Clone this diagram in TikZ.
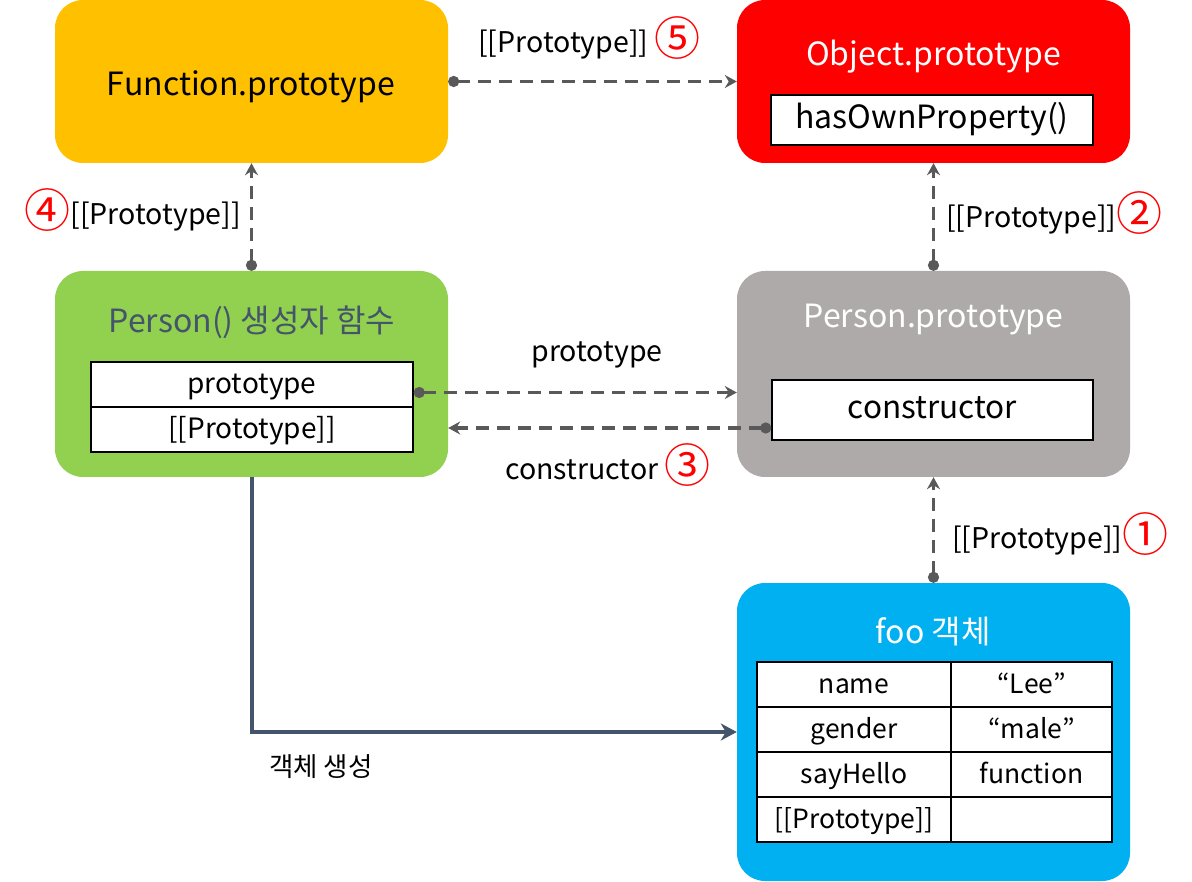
\documentclass[tikz,border=0pt]{standalone}
\usepackage{fontspec}
\setmainfont{Noto Sans CJK KR}
\usetikzlibrary{arrows.meta}

\definecolor{fnorange}{HTML}{FFC000}
\definecolor{objred}{HTML}{FF0000}
\definecolor{ctorgreen}{HTML}{92D050}
\definecolor{protogray}{HTML}{AEAAAA}
\definecolor{fooblue}{HTML}{00B0F0}
\definecolor{slate}{HTML}{44546A}
\definecolor{linkgray}{HTML}{595959}

\newcommand{\stepmark}[1]{{\color{red}\fontsize{46}{46}\selectfont\raisebox{-0.06em}{#1}}}

\begin{document}
\begin{tikzpicture}[x=1pt, y=-1pt,
    box node/.style={rounded corners=28pt, minimum width=393pt, inner sep=0pt},
    field node/.style={draw=black, fill=white, line width=1.5pt, inner sep=0pt,
      text height=24pt, text depth=6pt, font=\fontsize{28}{32}\selectfont},
    title node/.style={inner sep=0pt, font=\fontsize{32}{36}\selectfont},
    label node/.style={inner sep=0pt, font=\fontsize{28.5}{32}\selectfont},
    proto link/.style={draw=linkgray, line width=3.5pt, dash pattern=on 13pt off 8pt,
      {Circle[length=11pt]}-{Stealth[length=12pt,width=13pt,inset=4pt]}},
    make link/.style={draw=slate, line width=4pt, -{Stealth[length=16pt,width=17pt,inset=5pt]}},
    ]
  \useasboundingbox (0,0) rectangle (1192,882);

  % Function.prototype / Object.prototype
  \node[box node, fill=fnorange, minimum height=163pt] (fp) at (251.5, 81.5) {};
  \node[title node] (fptitle) at (251, 87) {Function.prototype};
  \node[box node, fill=objred, minimum height=163pt] (op) at (933.5, 81.5) {};
  \node[title node, text=white] (optitle) at (933.5, 57) {Object.prototype};
  \node[field node, minimum width=322pt, minimum height=50pt, font=\fontsize{32}{36}\selectfont] (hop) at (932, 120) {hasOwnProperty()};

  % Person() / Person.prototype
  \node[box node, fill=ctorgreen, minimum height=206pt] (pc) at (251.5, 374) {};
  \node[title node, text=slate] (pctitle) at (252, 322) {Person() 생성자 함수};
  \node[field node, minimum width=322pt, minimum height=45pt] (ptrow) at (252, 384.5) {prototype};
  \node[field node, minimum width=322pt, minimum height=45pt] (pprow) at (252, 429.5) {[[Prototype]]};

  \node[box node, fill=protogray, minimum height=206pt] (pp) at (933.5, 374) {};
  \node[title node, text=white] (pptitle) at (933.5, 320) {Person.prototype};
  \node[field node, minimum width=321pt, minimum height=60pt, font=\fontsize{31.5}{36}\selectfont] (ctor) at (932.5, 410) {constructor};

  % foo
  \node[box node, fill=fooblue, minimum height=298pt] (foo) at (933.5, 732) {};
  \node[title node, text=white] (footitle) at (933, 632) {foo 객체};
  \foreach \i/\key/\val in {1/name/“Lee”, 2/gender/“male”, 3/sayHello/function, 4/[[Prototype]]/{}} {
    \node[field node, font=\fontsize{26.5}{30}\selectfont, minimum width=194pt, minimum height=45pt] (key\i) at (854, 639.5+45*\i) {\key};
    \node[field node, font=\fontsize{26.5}{30}\selectfont, minimum width=161pt, minimum height=45pt] (val\i) at (1031.5, 639.5+45*\i) {\val};
  }

  \coordinate (ptout) at ([yshift=-8pt]ptrow.east);
  \coordinate (ctorout) at ([yshift=-18pt]ctor.west);

  \draw[proto link] (fp.east) -- (op.west);
  \draw[proto link] (pc.north) -- (fp.south);
  \draw[proto link] (pp.north) -- (op.south);
  \draw[proto link] (ptout) -- (ptout -| pp.west);
  \draw[proto link] (ctorout) -- (ctorout -| pc.east);
  \draw[proto link] (foo.north) -- (pp.south);
  \draw[make link] (pc.south) |- (foo.west);

  % labels
  \node[label node, anchor=west] (l5) at (478, 38) {[[Prototype]]\ \stepmark{⑤}};
  \node[label node, anchor=east] (l4) at (241, 210) {\stepmark{④}[[Prototype]]};
  \node[label node, anchor=west] (l2) at (946, 213) {[[Prototype]]\stepmark{②}};
  \node[label node, anchor=west] (l1) at (952, 534) {[[Prototype]]\stepmark{①}};
  \node[label node] (lproto) at (597, 355) {prototype};
  \node[label node, anchor=west] (lctor) at (505, 465) {constructor\ \stepmark{③}};
  \node[label node, font=\fontsize{26.5}{30}\selectfont] (lmake) at (321, 767) {객체 생성};
\end{tikzpicture}
\end{document}
